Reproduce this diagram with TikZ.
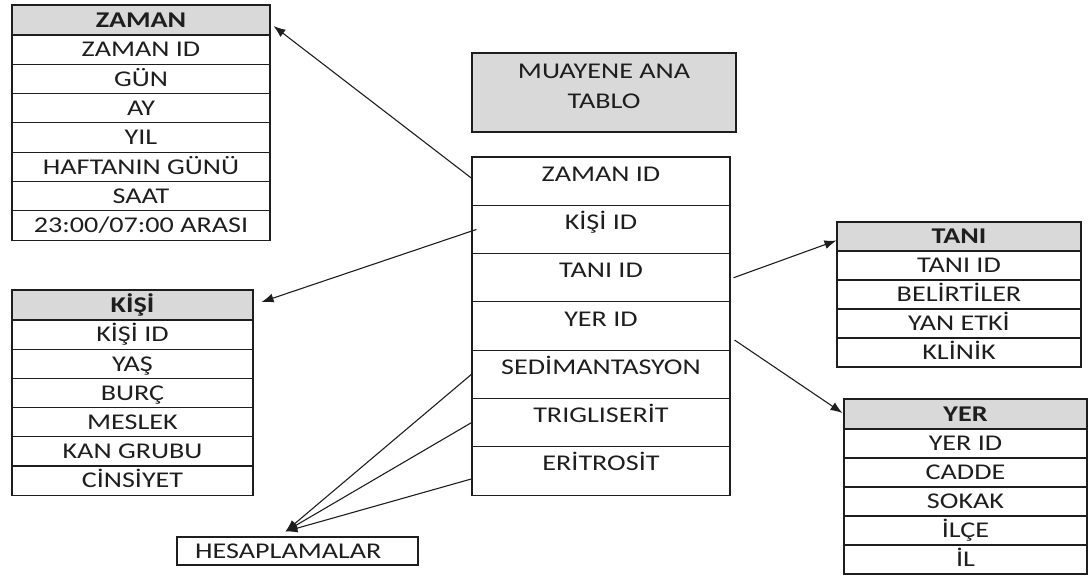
\documentclass[tikz,border=0pt]{standalone}
\usepackage{fontspec}
\setmainfont{Carlito}[FakeStretch=1.25]
\usetikzlibrary{arrows.meta,calc}
\definecolor{hdr}{RGB}{217,217,217}
\definecolor{ink}{RGB}{30,30,30}
\begin{document}
\begin{tikzpicture}[x=1pt,y=-1pt,
  every node/.style={font=\fontsize{22.5}{26}\selectfont, text=ink},
  cell/.style={draw=ink, line width=1.1pt, fill=white, inner sep=0pt, text height=14.5pt, text depth=0pt, minimum height=29.3pt},
  headcell/.style={cell, fill=hdr, font=\fontsize{22.5}{26}\selectfont\bfseries},
  mainrow/.style={draw=ink, line width=1.1pt, fill=white, inner sep=0pt, text height=14.5pt, text depth=14.5pt, minimum width=258pt, minimum height=48.3pt},
  conn/.style={draw=ink, line width=1.1pt, -{Latex[length=12pt,width=9pt]}}]
\useasboundingbox (0,0) rectangle (1088,578);

% ZAMAN table
\node[headcell, minimum width=258pt, minimum height=30pt] (z0) at (141,20) {ZAMAN};
\foreach \t [count=\i] in {ZAMAN ID, GÜN, AY, YIL, HAFTANIN GÜNÜ, SAAT, 23:00/07:00 ARASI}
  \node[cell, minimum width=258pt] (z\i) at (141,{35+29.3*\i-14.65}) {\t};

% KISI table
\node[headcell, minimum width=241pt, minimum height=30pt] (k0) at (132.5,305) {KİŞİ};
\foreach \t [count=\i] in {KİŞİ ID, YAŞ, BURÇ, MESLEK, KAN GRUBU, CİNSİYET}
  \node[cell, minimum width=241pt, minimum height=29.2pt] (k\i) at (132.5,{320+29.2*\i-14.6}) {\t};

% MUAYENE ANA TABLO
\node[draw=ink, line width=1.1pt, fill=hdr, minimum width=264pt, minimum height=79pt, inner sep=0pt] (ma) at (604,92.5) {};
\node[align=center, inner sep=0pt, font=\fontsize{22.5}{30}\selectfont] (mat) at (604,86) {MUAYENE ANA\\TABLO};

% main table
\foreach \t [count=\i] in {ZAMAN ID, KİŞİ ID, TANI ID, YER ID, SEDİMANTASYON, TRIGLISERİT, ERİTROSİT}
  \node[mainrow] (m\i) at (601,{157+48.3*\i-24.15}) {\t};

% TANI table
\node[headcell, minimum width=244pt, minimum height=29pt] (t0) at (959,236.5) {TANI};
\foreach \t [count=\i] in {TANI ID, BELİRTİLER, YAN ETKİ, KLİNİK}
  \node[cell, minimum width=244pt, minimum height=29pt] (t\i) at (959,{251+29*\i-14.5}) {\t};

% YER table
\node[headcell, minimum width=243pt, minimum height=30pt] (y0) at (965.5,414) {YER};
\foreach \t [count=\i] in {YER ID, CADDE, SOKAK, İLÇE, İL}
  \node[cell, minimum width=243pt, minimum height=29pt] (y\i) at (965.5,{429+29*\i-14.5}) {\t};

% HESAPLAMALAR
\node[draw=ink, line width=1.1pt, minimum width=241pt, minimum height=28pt, inner sep=0pt] (h) at (297.5,551) {};
\node[anchor=west, inner sep=0pt, text height=14.5pt, text depth=0pt] (ht) at (195,551) {HESAPLAMALAR};

% connector end points
\coordinate (zs) at ($(m1.west)+(0,-3)$);
\coordinate (ze) at ($(z0.east)+(3,6)$);
\coordinate (ks) at ($(m2.west)+(5,0)$);
\coordinate (ke) at ($(k0.east)+(8,-3)$);
\coordinate (ts) at ($(m3.east)+(3,0)$);
\coordinate (te) at ($(t0.west)+(0,4)$);
\coordinate (ys) at ($(m4.east)+(4,14)$);
\coordinate (ye) at ($(y0.west)+(-1,-1)$);
\coordinate (he) at ($(h.north)+(-12,-5)$);

\draw[conn] (zs) -- (ze);
\draw[conn] (ks) -- (ke);
\draw[conn] (ts) -- (te);
\draw[conn] (ys) -- (ye);
\draw[conn] (m5.west) -- (he);
\draw[conn] (m6.west) -- (he);
\draw[conn] ($(m7.west)+(0,8)$) -- (he);
\end{tikzpicture}
\end{document}
